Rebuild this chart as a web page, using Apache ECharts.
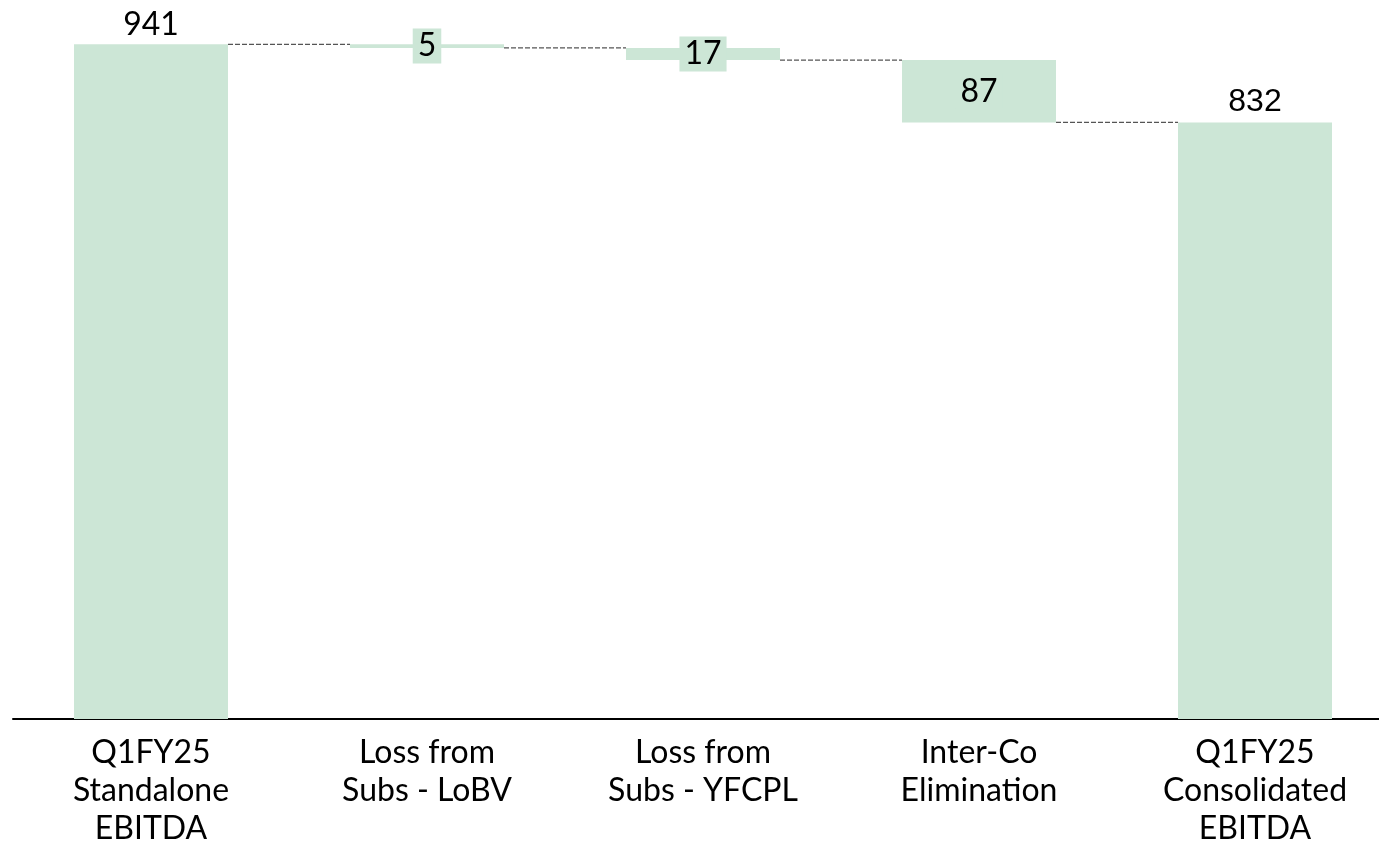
<!DOCTYPE html>
<html>
<head>
<meta charset="utf-8">
<script src="https://cdn.jsdelivr.net/npm/echarts@6/dist/echarts.min.js"></script>
<style>
  html, body { margin: 0; padding: 0; background: #fff; }
  #chart { width: 1379px; height: 842px; }
</style>
</head>
<body>
<div id="chart"></div>
<script>
// bridge data
const categories = ['Q1FY25\nStandalone\nEBITDA', 'Loss from\nSubs - LoBV', 'Loss from\nSubs - YFCPL', 'Inter-Co\nElimina\u200Ction', 'Q1FY25\nConsolidated\nEBITDA'];
const values = [941, 5, 17, 87, 832];
const kinds = ['total', 'minus', 'minus', 'minus', 'total'];

// invisible base under each floating bar
let base = [];
let level = 0;
for (let i = 0; i < values.length; i++) {
    if (kinds[i] == 'total') {
        base.push(0);
        level = values[i];
    } else {
        level = level - values[i];
        base.push(level);
    }
}
// connector levels: top of each step going to the next
let links = [];
for (let i = 0; i < values.length - 1; i++) {
    links.push([i, base[i] + (kinds[i] == 'total' ? values[i] : 0)]);
}

const green = '#cce6d6';
const barW = 154;

echarts.init(document.getElementById('chart')).setOption({
    animation: false,
    textStyle: { fontFamily: 'Lato' },
    grid: { left: 13, top: 2, right: -14, bottom: 123, outerBoundsMode: 'none', containLabel: false },
    xAxis: {
        type: 'category',
        data: categories,
        axisLine: { lineStyle: { color: '#000', width: 2 } },
        axisTick: { show: false },
        axisLabel: { color: '#000', fontSize: 32, lineHeight: 38, margin: 15, fontFamily: 'Lato', interval: 0 }
    },
    yAxis: {
        type: 'value',
        min: 0,
        max: 1000,
        show: false
    },
    series: [
        {
            type: 'bar',
            stack: 'wf',
            barWidth: barW,
            itemStyle: { color: 'transparent' },
            data: base,
            silent: true
        },
        {
            type: 'bar',
            stack: 'wf',
            barWidth: barW,
            itemStyle: { color: green },
            label: {
                show: true,
                color: '#000',
                fontSize: 32,
                fontFamily: 'Lato'
            },
            data: values.map(function (v, i) {
                if (kinds[i] == 'total') {
                    return { value: v, label: { position: 'top', distance: 4, fontFamily: i == 4 ? 'Liberation Sans' : 'Lato' } };
                }
                return { value: v, label: { position: 'inside', backgroundColor: green, padding: [1, 5, 1, 5], lineHeight: 33 } };
            })
        },
        {
            type: 'custom',
            data: links,
            z: 1,
            silent: true,
            renderItem: function (params, api) {
                const i = api.value(0);
                const y = api.value(1);
                const p1 = api.coord([i, y]);
                const p2 = api.coord([i + 1, y]);
                return {
                    type: 'line',
                    shape: { x1: p1[0] + barW / 2, y1: p1[1], x2: p2[0] - barW / 2, y2: p2[1] },
                    style: { stroke: '#555', lineWidth: 1.3, lineDash: [5, 2] }
                };
            }
        }
    ]
});
</script>
</body>
</html>
